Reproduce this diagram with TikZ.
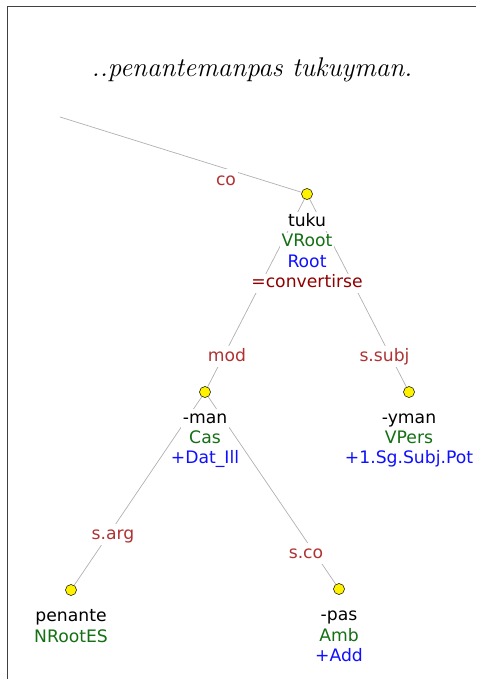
\documentclass[tikz,border=0pt]{standalone}
\usepackage{fontspec}
\newfontfamily\dejavu{DejaVu Sans}
\usepackage{tikz}
\usetikzlibrary{backgrounds,positioning}
\definecolor{lblred}{HTML}{B03232}
\definecolor{catgreen}{HTML}{137013}
\definecolor{featblue}{HTML}{1010FF}
\definecolor{glossred}{HTML}{900000}
\definecolor{edgegrey}{HTML}{B0B0B0}
\definecolor{framegrey}{HTML}{404040}
\tikzset{
  dot/.style={circle,draw=black,fill=yellow,minimum size=11pt,inner sep=0pt,line width=0.5pt},
  ln/.style={anchor=base,fill=white,inner sep=1.5pt,text height=12.5pt,text depth=3.5pt,
    font=\dejavu\fontsize{17.2}{20}\selectfont},
  wd/.style={ln,text=black},
  cat/.style={ln,text=catgreen},
  feat/.style={ln,text=featblue},
  gloss/.style={ln,text=glossred},
  lbl/.style={ln,text=lblred,inner sep=2pt,text height=13.5pt},
  edge/.style={draw=edgegrey,line width=0.7pt}
}

\begin{document}
\begin{tikzpicture}[x=1pt,y=-1pt]
\useasboundingbox (0,0) rectangle (476,679);
\draw[framegrey,line width=1.5pt] (7.5,679) -- (7.5,6.5) -- (476,6.5);
\node[anchor=base,font=\fontsize{27}{32}\selectfont\itshape] (title) at (252,77) {..penantemanpas tukuyman.};

\coordinate (up) at (60,117);

\node[dot] (tukud) at (307,194) {};
\node[wd] (tuku) at (307,226) {tuku};
\node[cat] (tukuc) at (307,246.5) {VRoot};
\node[feat] (tukuf) at (307,267) {Root};
\node[gloss] (tukug) at (307,287.5) {=convertirse};

\node[dot] (mand) at (205,392) {};
\node[wd] (man) at (205,423) {-man};
\node[cat] (manc) at (205,443) {Cas};
\node[feat] (manf) at (205,463.5) {+Dat\_Ill};

\node[dot] (ymand) at (409,392) {};
\node[wd] (yman) at (409,423) {-yman};
\node[cat] (ymanc) at (409,443) {VPers};
\node[feat] (ymanf) at (409,463.5) {+1.Sg.Subj.Pot};

\node[dot] (pened) at (71,590) {};
\node[wd] (pene) at (71,621.5) {penante};
\node[cat] (penec) at (71,642) {NRootES};

\node[dot] (pasd) at (339,589) {};
\node[wd] (pas) at (339,620.5) {-pas};
\node[cat] (pasc) at (339,641) {Amb};
\node[feat] (pasf) at (339,661) {+Add};

\node[lbl] (lco) at (226,185) {co};
\node[lbl] (lmod) at (227,361) {mod};
\node[lbl] (lsubj) at (384.5,361) {s.subj};
\node[lbl] (larg) at (113,539) {s.arg};
\node[lbl] (lsco) at (306,558) {s.co};

\begin{scope}[on background layer]
\draw[edge] (up) -- (tukud);
\draw[edge] (tukud) -- (mand);
\draw[edge] (tukud) -- (ymand);
\draw[edge] (mand) -- (pened);
\draw[edge] (mand) -- (pasd);
\end{scope}
\end{tikzpicture}
\end{document}
